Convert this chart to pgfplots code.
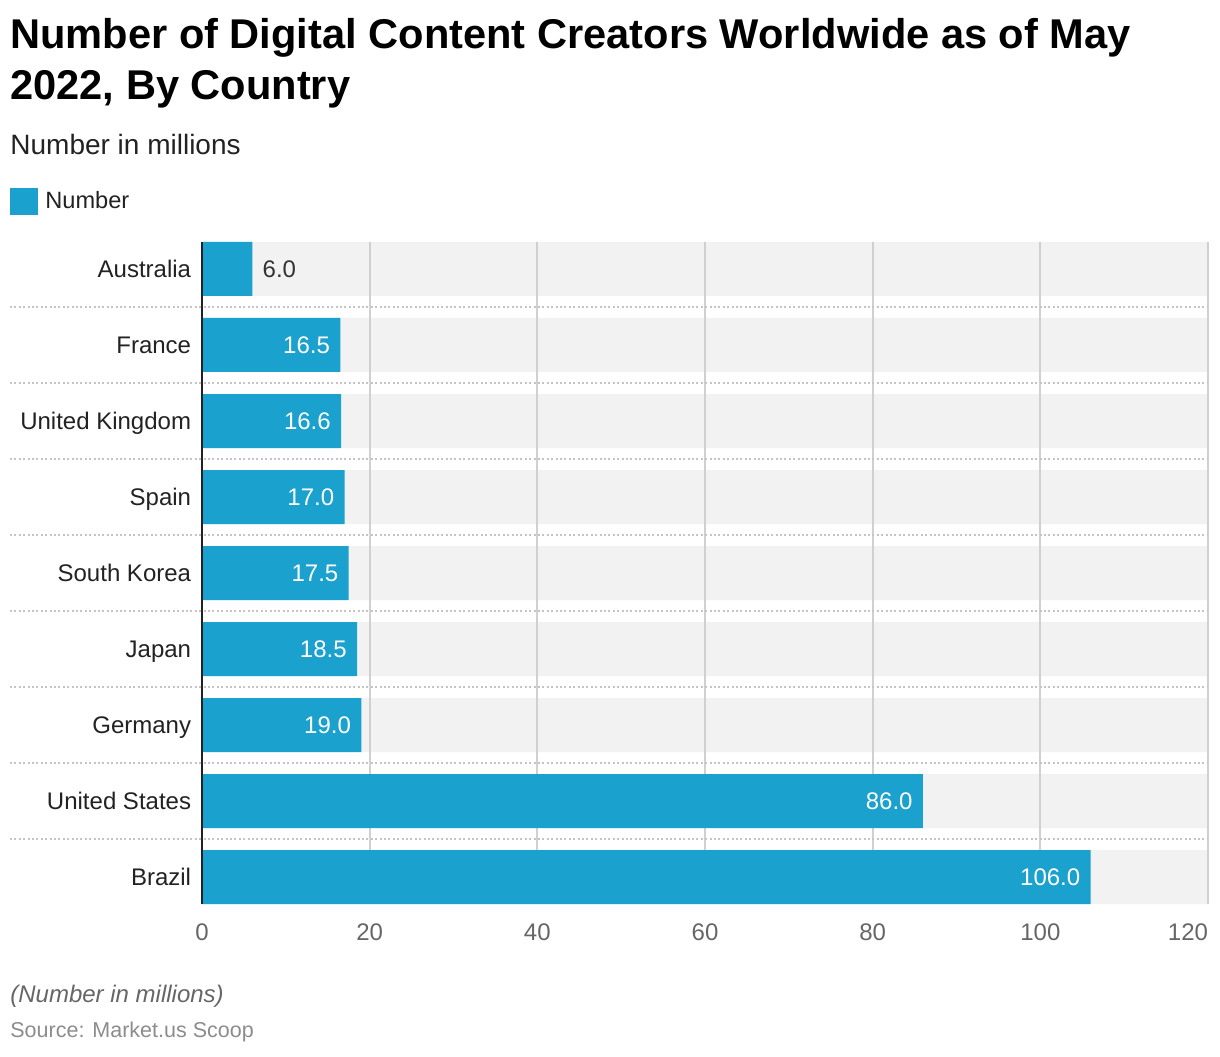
\documentclass[border=0pt]{standalone}
\usepackage{pgfplots}
\pgfplotsset{compat=1.18}
\usepackage{fontspec}
\setmainfont{Liberation Sans}
\definecolor{barblue}{HTML}{1AA1CE}
\definecolor{bandgray}{HTML}{F2F2F2}
\definecolor{gridgray}{HTML}{D0D0D0}
\definecolor{dotgray}{HTML}{C4C4C4}
\definecolor{textdark}{HTML}{222222}
\definecolor{tickgray}{HTML}{666666}
\begin{document}
\begin{tikzpicture}
\useasboundingbox (0,0) rectangle (610pt,528pt);
% titles
\node[anchor=base west, inner sep=0pt, font=\fontsize{20.8}{25}\selectfont\bfseries] at (5pt,503.5pt) {Number of Digital Content Creators Worldwide as of May};
\node[anchor=base west, inner sep=0pt, font=\fontsize{20.8}{25}\selectfont\bfseries] at (5pt,478pt) {2022, By Country};
\node[anchor=base west, inner sep=0pt, font=\fontsize{14}{16}\selectfont, text=textdark] at (5pt,450.5pt) {Number in millions};
% legend
\fill[barblue] (5pt,420.5pt) rectangle (19pt,434pt);
\node[anchor=base west, inner sep=0pt, font=\fontsize{11.8}{14}\selectfont, text=textdark] at (22.5pt,423.5pt) {Number};
% footer
\node[anchor=base west, inner sep=0pt, font=\fontsize{12}{14}\selectfont\itshape, text=tickgray] at (5pt,27pt) {(Number in millions)};
\node[anchor=base west, inner sep=0pt, font=\fontsize{10.75}{13}\selectfont, text=black!45] at (5pt,9.5pt) {Source: Market.us Scoop};
\begin{axis}[
    at={(101pt,76pt)}, anchor=south west,
    scale only axis, width=503pt, height=331pt,
    xmin=0, xmax=120, ymin=-0.355, ymax=8.355,
    y dir=reverse, clip=false,
    axis line style={draw=none}, tick style={draw=none},
    xtick={0,20,40,60,80,100,120},
    xticklabels={0,20,40,60,80,100,\makebox[0pt][r]{120}},
    ytick={0,1,2,3,4,5,6,7,8},
    yticklabels={Australia,France,United Kingdom,Spain,South Korea,Japan,Germany,United States,Brazil},
    xticklabel style={anchor=base, inner sep=0pt, yshift=-18pt, font=\fontsize{12}{14}\selectfont, text=tickgray},
    yticklabel style={anchor=base east, inner sep=0pt, xshift=-1pt, yshift=-4.2pt, font=\fontsize{12}{14}\selectfont, text=textdark},
    xbar, bar width=27pt, bar shift=0pt,
]
% background bands
\addplot[xbar, fill=bandgray, draw=none] coordinates {
    (120,0) (120,1) (120,2) (120,3) (120,4) (120,5) (120,6) (120,7) (120,8)
};
% vertical grid lines
\addplot[sharp plot, draw=gridgray, line width=1pt] coordinates {(20,-0.355) (20,8.355)};
\addplot[sharp plot, draw=gridgray, line width=1pt] coordinates {(40,-0.355) (40,8.355)};
\addplot[sharp plot, draw=gridgray, line width=1pt] coordinates {(60,-0.355) (60,8.355)};
\addplot[sharp plot, draw=gridgray, line width=1pt] coordinates {(80,-0.355) (80,8.355)};
\addplot[sharp plot, draw=gridgray, line width=1pt] coordinates {(100,-0.355) (100,8.355)};
\addplot[sharp plot, draw=gridgray, line width=1pt] coordinates {(120,-0.355) (120,8.355)};
% dotted separators
\addplot[sharp plot, draw=dotgray, line width=0.75pt, dash pattern=on 1pt off 1.2pt] coordinates {(-22.9,0.5) (120,0.5)};
\addplot[sharp plot, draw=dotgray, line width=0.75pt, dash pattern=on 1pt off 1.2pt] coordinates {(-22.9,1.5) (120,1.5)};
\addplot[sharp plot, draw=dotgray, line width=0.75pt, dash pattern=on 1pt off 1.2pt] coordinates {(-22.9,2.5) (120,2.5)};
\addplot[sharp plot, draw=dotgray, line width=0.75pt, dash pattern=on 1pt off 1.2pt] coordinates {(-22.9,3.5) (120,3.5)};
\addplot[sharp plot, draw=dotgray, line width=0.75pt, dash pattern=on 1pt off 1.2pt] coordinates {(-22.9,4.5) (120,4.5)};
\addplot[sharp plot, draw=dotgray, line width=0.75pt, dash pattern=on 1pt off 1.2pt] coordinates {(-22.9,5.5) (120,5.5)};
\addplot[sharp plot, draw=dotgray, line width=0.75pt, dash pattern=on 1pt off 1.2pt] coordinates {(-22.9,6.5) (120,6.5)};
\addplot[sharp plot, draw=dotgray, line width=0.75pt, dash pattern=on 1pt off 1.2pt] coordinates {(-22.9,7.5) (120,7.5)};
% data bars
\addplot[xbar, fill=barblue, draw=none] coordinates {
    (6.0,0) (16.5,1) (16.6,2) (17.0,3) (17.5,4) (18.5,5) (19.0,6) (86.0,7) (106.0,8)
};
% y axis line
\addplot[sharp plot, draw=textdark, line width=1.1pt] coordinates {(0,-0.355) (0,8.355)};
% value labels
\node[anchor=base west, inner sep=0pt, xshift=5pt, yshift=-4.2pt, font=\fontsize{12}{14}\selectfont, text=black!80] at (axis cs:6.0,0) {6.0};
\node[anchor=base east, inner sep=0pt, xshift=-5pt, yshift=-4.2pt, font=\fontsize{12}{14}\selectfont, text=white] at (axis cs:16.5,1) {16.5};
\node[anchor=base east, inner sep=0pt, xshift=-5pt, yshift=-4.2pt, font=\fontsize{12}{14}\selectfont, text=white] at (axis cs:16.6,2) {16.6};
\node[anchor=base east, inner sep=0pt, xshift=-5pt, yshift=-4.2pt, font=\fontsize{12}{14}\selectfont, text=white] at (axis cs:17.0,3) {17.0};
\node[anchor=base east, inner sep=0pt, xshift=-5pt, yshift=-4.2pt, font=\fontsize{12}{14}\selectfont, text=white] at (axis cs:17.5,4) {17.5};
\node[anchor=base east, inner sep=0pt, xshift=-5pt, yshift=-4.2pt, font=\fontsize{12}{14}\selectfont, text=white] at (axis cs:18.5,5) {18.5};
\node[anchor=base east, inner sep=0pt, xshift=-5pt, yshift=-4.2pt, font=\fontsize{12}{14}\selectfont, text=white] at (axis cs:19.0,6) {19.0};
\node[anchor=base east, inner sep=0pt, xshift=-5pt, yshift=-4.2pt, font=\fontsize{12}{14}\selectfont, text=white] at (axis cs:86.0,7) {86.0};
\node[anchor=base east, inner sep=0pt, xshift=-5pt, yshift=-4.2pt, font=\fontsize{12}{14}\selectfont, text=white] at (axis cs:106.0,8) {106.0};
\end{axis}
\end{tikzpicture}
\end{document}
